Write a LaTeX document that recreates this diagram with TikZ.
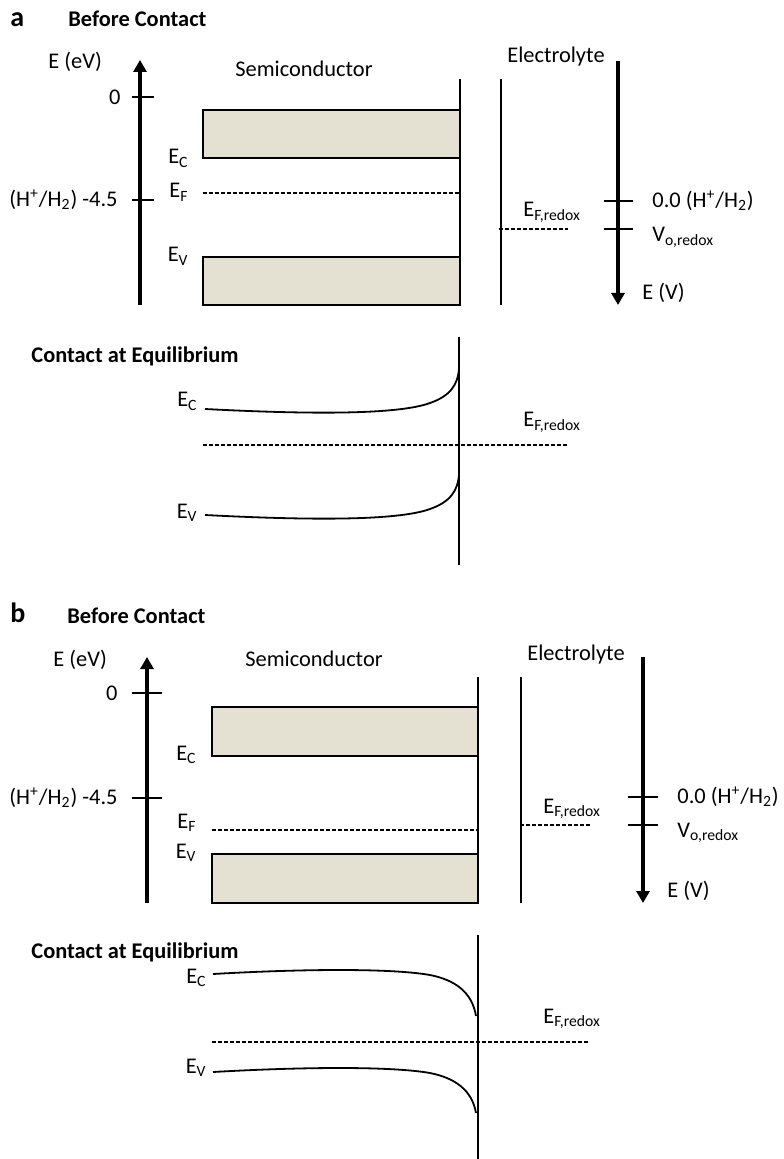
\documentclass[tikz,border=0pt]{standalone}
\usepackage{fontspec}
\setmainfont{Carlito}
\usepackage{xcolor}
\usetikzlibrary{arrows.meta}
\definecolor{bandfill}{RGB}{228,224,210}

\begin{document}
\begin{tikzpicture}[x=0.5pt,y=-0.5pt,
  txt/.style={font=\fontsize{11.2}{13}\selectfont, inner sep=0pt},
  head/.style={font=\fontsize{11.2}{13}\selectfont\bfseries, inner sep=0pt},
  panel/.style={font=\fontsize{14}{16}\selectfont\bfseries, inner sep=0pt},
  band/.style={draw, line width=1.4pt, fill=bandfill},
  axis/.style={line width=2pt, -{Triangle[length=6pt,width=6.5pt]}},
  axtick/.style={line width=0.8pt},
  wall/.style={line width=0.8pt},
  fermi/.style={line width=0.6pt, dash pattern=on 2pt off 1pt},
  bandedge/.style={line width=0.9pt}
]
\useasboundingbox (0,0) rectangle (783,1159);

% ---- a: before contact
\node[panel, anchor=base west] (la) at (10,27) {a};
\node[head, anchor=base west] (bca) at (68,27) {Before Contact};
\node[txt, anchor=base west] (eeva) at (48,69) {E (eV)};
\node[txt, anchor=base] (semia) at (304,77) {Semiconductor};
\node[txt, anchor=base west] (elya) at (507,63) {Electrolyte};
\node[txt, anchor=east] (zeroa) at (121,97) {0};
\node[txt, anchor=east] (shea) at (118,200) {(H\textsuperscript{+}/H\textsubscript{2}) -4.5};
\node[txt, anchor=base east] (eca) at (189,164) {E\textsubscript{C}};
\node[txt, anchor=base east] (efa) at (189,198) {E\textsubscript{F}};
\node[txt, anchor=base east] (eva) at (189,262) {E\textsubscript{V}};
\node[txt, anchor=base west] (erxa) at (523,217) {E\textsubscript{F,redox}};
\node[txt, anchor=west] (sha) at (652,201) {0.0 (H\textsuperscript{+}/H\textsubscript{2})};
\node[txt, anchor=base west] (voa) at (652,242) {V\textsubscript{o,redox}};
\node[txt, anchor=base west] (eva2) at (642,300) {E (V)};

\coordinate (la0) at (140,305); \coordinate (la1) at (140,60);
\coordinate (ra0) at (618,61);  \coordinate (ra1) at (618,305);
\draw[axis] (la0) -- (la1);
\draw[axis] (ra0) -- (ra1);
\draw[axtick] (132,97) -- (154,97);
\draw[axtick] (132,200) -- (154,200);
\draw[axtick] (604,201) -- (633,201);
\draw[axtick] (604,229) -- (633,229);
\draw[band] (203,110) rectangle (460,158);
\draw[band] (203,257) rectangle (460,305);
\draw[fermi] (203,193) -- (460,193);
\draw[wall] (460,79) -- (460,305);
\draw[wall] (501,79) -- (501,305);
\draw[fermi] (499,229) -- (568,229);

% ---- a: contact at equilibrium
\node[head, anchor=base west] (cea) at (31,363) {Contact at Equilibrium};
\node[txt, anchor=base east] (eca2) at (198,407) {E\textsubscript{C}};
\node[txt, anchor=base east] (eva3) at (198,518) {E\textsubscript{V}};
\node[txt, anchor=base west] (erxa2) at (523,427) {E\textsubscript{F,redox}};
\draw[wall] (459,337) -- (459,565);
\draw[fermi] (203,445) -- (567,445);
\draw[bandedge] (205,409) .. controls (320,415) and (400,414) .. (430,403)
  .. controls (450,396) and (458,385) .. (459,368);
\draw[bandedge] (205,515) .. controls (320,521) and (400,520) .. (430,509)
  .. controls (450,502) and (458,491) .. (459,474);

% ---- b: before contact
\node[panel, anchor=base west] (lb) at (10,622) {b};
\node[head, anchor=base west] (bcb) at (67,623) {Before Contact};
\node[txt, anchor=base west] (eevb) at (53,666) {E (eV)};
\node[txt, anchor=base west] (semib) at (245,666) {Semiconductor};
\node[txt, anchor=base west] (elyb) at (527,660) {Electrolyte};
\node[txt, anchor=east] (zerob) at (118,693) {0};
\node[txt, anchor=east] (sheb) at (118,798) {(H\textsuperscript{+}/H\textsubscript{2}) -4.5};
\node[txt, anchor=base east] (ecb) at (197,760) {E\textsubscript{C}};
\node[txt, anchor=base east] (efb) at (197,828) {E\textsubscript{F}};
\node[txt, anchor=base east] (evb) at (197,858) {E\textsubscript{V}};
\node[txt, anchor=base west] (erxb) at (543,813) {E\textsubscript{F,redox}};
\node[txt, anchor=west] (shb) at (677,797) {0.0 (H\textsuperscript{+}/H\textsubscript{2})};
\node[txt, anchor=base west] (vob) at (677,837) {V\textsubscript{o,redox}};
\node[txt, anchor=base west] (evb2) at (667,897) {E (V)};

\coordinate (lb0) at (147,903); \coordinate (lb1) at (147,657);
\coordinate (rb0) at (643,657); \coordinate (rb1) at (643,903);
\draw[axis] (lb0) -- (lb1);
\draw[axis] (rb0) -- (rb1);
\draw[axtick] (132,693) -- (162,693);
\draw[axtick] (132,798) -- (162,798);
\draw[axtick] (628,797) -- (658,797);
\draw[axtick] (628,825) -- (658,825);
\draw[band] (212,707) rectangle (478,756);
\draw[band] (212,854) rectangle (478,903);
\draw[fermi] (212,830) -- (478,830);
\draw[wall] (478,677) -- (478,903);
\draw[wall] (521,677) -- (521,903);
\draw[fermi] (520,825) -- (591,825);

% ---- b: contact at equilibrium
\node[head, anchor=base west] (ceb) at (31,958) {Contact at Equilibrium};
\node[txt, anchor=base east] (ecb2) at (207,983) {E\textsubscript{C}};
\node[txt, anchor=base east] (evb3) at (207,1073) {E\textsubscript{V}};
\node[txt, anchor=base west] (erxb2) at (543,1023) {E\textsubscript{F,redox}};
\draw[wall] (478,935) -- (478,1159);
\draw[fermi] (212,1042) -- (589,1042);
\draw[bandedge] (213,974) .. controls (300,969) and (390,968) .. (430,975)
  .. controls (455,980) and (472,992) .. (476,1016);
\draw[bandedge] (213,1072) .. controls (300,1067) and (390,1066) .. (430,1073)
  .. controls (455,1078) and (472,1090) .. (476,1113);
\end{tikzpicture}
\end{document}
